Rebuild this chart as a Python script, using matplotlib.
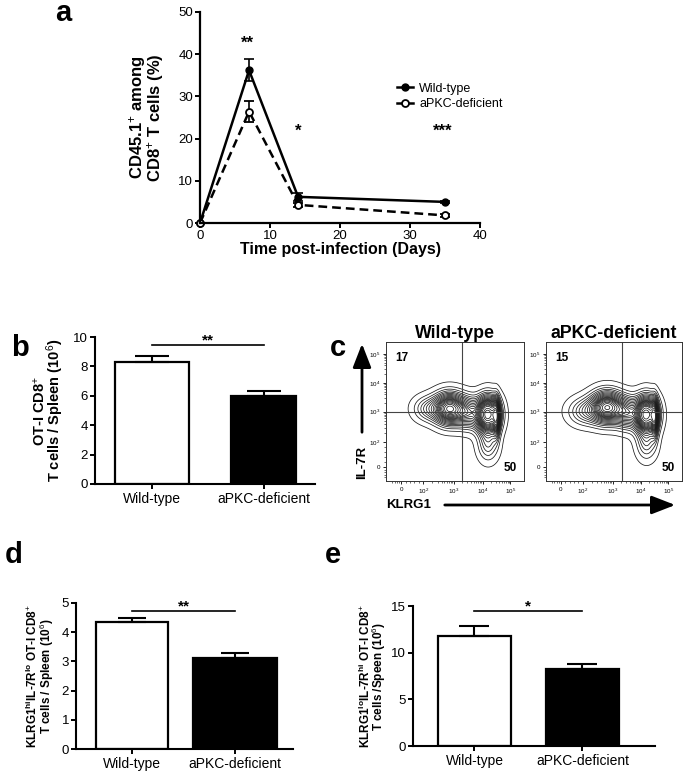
import numpy as np
import matplotlib
matplotlib.use('Agg')
import matplotlib.pyplot as plt
from matplotlib.patches import FancyArrowPatch
from matplotlib.lines import Line2D

plt.rcParams['font.family'] = ['Liberation Sans', 'DejaVu Sans']
plt.rcParams['mathtext.fontset'] = 'custom'
plt.rcParams['mathtext.rm'] = 'Liberation Sans'
plt.rcParams['mathtext.bf'] = 'Liberation Sans:bold'
plt.rcParams['mathtext.it'] = 'Liberation Sans:italic'

# --- данные панели a (кинетика)
days = [0, 7, 14, 35]
wt_pct = [0, 36.2, 6.2, 5.0]
wt_pct_err = [0, 2.6, 0.9, 0.3]
ko_pct = [0, 26.4, 4.3, 1.8]
ko_pct_err = [0, 2.5, 0.5, 0.3]
a_stars = ['**', '*', '***']
a_star_x = [6.8, 14, 34.6]
a_star_y = [42.6, 21.8, 21.8]

groups = ['Wild-type', 'aPKC-deficient']

# --- панели b, d, e (столбцы)
b_vals = [8.3, 6.0]
b_errs = [0.38, 0.33]
d_vals = [4.35, 3.1]
d_errs = [0.15, 0.2]
e_vals = [11.8, 8.3]
e_errs = [1.05, 0.5]

# --- панель c: компоненты плотности (координаты в долях оси)
wt_cx = [0.46, 0.30, 0.74, 0.80, 0.74, 0.60]
wt_cy = [0.52, 0.52, 0.48, 0.46, 0.26, 0.49]
wt_sx = [0.075, 0.07, 0.055, 0.016, 0.05, 0.06]
wt_sy = [0.075, 0.06, 0.085, 0.085, 0.08, 0.075]
wt_w = [0.75, 0.2, 1.0, 0.5, 0.2, 0.35]

ko_cx = [0.45, 0.28, 0.74, 0.80, 0.74, 0.60]
ko_cy = [0.53, 0.50, 0.48, 0.46, 0.27, 0.49]
ko_sx = [0.08, 0.08, 0.055, 0.016, 0.05, 0.06]
ko_sy = [0.075, 0.065, 0.085, 0.085, 0.08, 0.075]
ko_w = [0.8, 0.22, 1.0, 0.5, 0.2, 0.4]

wt_quads = ['17', '50']
ko_quads = ['15', '50']
flow_tick_labels = ['0', '10$^2$', '10$^3$', '10$^4$', '10$^5$']

fig = plt.figure(figsize=(6.85, 7.73), dpi=100)

# ================= a =================
ax = fig.add_axes([0.292, 0.7115, 0.409, 0.273])
ax.errorbar(days, wt_pct, yerr=wt_pct_err, color='black', lw=1.8, marker='o', ms=5,
            capsize=3.5, elinewidth=1.2, capthick=1.2)
ax.errorbar(days, ko_pct, yerr=ko_pct_err, color='black', lw=1.8, ls=(0, (3.5, 2)), marker='o',
            ms=5, mfc='white', mew=1.3, capsize=3.5, elinewidth=1.2, capthick=1.2)
ax.set_xlim(0, 40)
ax.set_ylim(0, 50)
ax.set_xticks([0, 10, 20, 30, 40])
ax.set_yticks([0, 10, 20, 30, 40, 50])
for s in ['top', 'right']:
    ax.spines[s].set_visible(False)
for s in ['left', 'bottom']:
    ax.spines[s].set_linewidth(1.6)
ax.tick_params(width=1.4, length=3.5, labelsize=9.5, pad=1.5)
ax.set_xlabel('Time post-infection (Days)', fontsize=11.5, fontweight='bold', labelpad=0)
ax.set_ylabel('CD45.1$^{+}$ among\nCD8$^{+}$ T cells (%)', fontsize=12, fontweight='bold',
              labelpad=9, linespacing=0.8)
for s, x, y in zip(a_stars, a_star_x, a_star_y):
    ax.text(x, y, s, ha='center', va='center', fontsize=12, fontweight='bold')
handles = [Line2D([], [], color='black', lw=1.8, marker='o', ms=5),
           Line2D([], [], color='black', lw=1.8, marker='o', ms=5, mfc='white', mew=1.3)]
ax.legend(handles, groups, loc='upper left', bbox_to_anchor=(0.68, 0.695), frameon=False,
          fontsize=9, handlelength=1.3, handletextpad=0.5, borderpad=0, labelspacing=0.3)
for ch in ax.get_children():
    if hasattr(ch, 'set_clip_on'):
        ch.set_clip_on(False)


# ================= столбцы =================
def bar_panel(rect, vals, errs, widths, xlim, ylim, yticks, ylabel, ylabel_size, sig_y, stars, capsize, lpad):
    ax = fig.add_axes(rect)
    x = np.arange(len(vals))
    ax.bar(x, vals, width=widths, color=['white', 'black'], edgecolor='black', lw=1.6, zorder=2)
    ax.errorbar(x, vals, yerr=[[0] * len(vals), errs], fmt='none', ecolor='black',
                elinewidth=1.5, capsize=capsize, capthick=1.5, zorder=3)
    ax.set_xlim(*xlim)
    ax.set_ylim(*ylim)
    ax.set_yticks(yticks)
    ax.set_xticks(x)
    ax.set_xticklabels(groups, fontsize=10)
    for s in ['top', 'right']:
        ax.spines[s].set_visible(False)
    for s in ['left', 'bottom']:
        ax.spines[s].set_linewidth(1.5)
    ax.tick_params(axis='y', width=1.4, length=3.5, labelsize=9.5, pad=1.5)
    ax.tick_params(axis='x', width=1.4, length=3.5, pad=2)
    ax.set_ylabel(ylabel, fontsize=ylabel_size, fontweight='bold', labelpad=lpad, linespacing=0.8)
    ax.plot([0, 1], [sig_y, sig_y], color='black', lw=1.2, clip_on=False)
    ax.annotate(stars, (0.5, sig_y), xytext=(0, 0.5), textcoords='offset points',
                ha='center', va='baseline', fontsize=11, fontweight='bold', annotation_clip=False)
    return ax


bar_panel([0.1387, 0.3739, 0.321, 0.190], b_vals, b_errs, [0.66, 0.58], (-0.509, 1.455),
          (0, 10), [0, 2, 4, 6, 8, 10], 'OT-I CD8$^{+}$\nT cells / Spleen (10$^{6}$)', 10.5, 9.45, '**', 12, 5)
bar_panel([0.111, 0.031, 0.3168, 0.189], d_vals, d_errs, [0.70, 0.82], (-0.544, 1.563),
          (0, 5), [0, 1, 2, 3, 4, 5],
          'KLRG1$^{\\mathbf{hi}}$IL-7R$^{\\mathbf{lo}}$ OT-I CD8$^{+}$\nT cells / Spleen (10$^{6}$)', 8.5, 4.73,
          '**', 10, 4)
bar_panel([0.603, 0.0349, 0.353, 0.181], e_vals, e_errs, [0.68, 0.68], (-0.569, 1.671),
          (0, 15), [0, 5, 10, 15],
          'KLRG1$^{\\mathbf{lo}}$IL-7R$^{\\mathbf{hi}}$ OT-I CD8$^{+}$\nT cells /Speen (10$^{6}$)', 8.5, 14.5,
          '*', 11, 2)

# ================= c (проточная цитометрия) =================
xt = [0.11, 0.27, 0.49, 0.70, 0.90]
yt = [0.10, 0.28, 0.50, 0.705, 0.915]


def minor_positions(t):
    pos = []
    for k in range(1, 4):
        for m in range(2, 10):
            pos.append(t[k] + (t[k + 1] - t[k]) * np.log10(m))
    for m in np.linspace(0, 1, 6)[1:-1]:
        pos.append(t[0] + (t[1] - t[0]) * m)
        pos.append(t[0] - (t[1] - t[0]) * m * 0.5)
    return [p for p in pos if 0 < p < 1]


gx, gy = np.meshgrid(np.linspace(0, 1, 300), np.linspace(0, 1, 300))


def flow_panel(rect, cx, cy, sx, sy, w, title, quads, vline):
    ax = fig.add_axes(rect)
    z = np.zeros_like(gx)
    for a, b, c, d, e in zip(cx, cy, sx, sy, w):
        z += e * np.exp(-0.5 * ((gx - a) / c) ** 2 - 0.5 * ((gy - b) / d) ** 2)
    zs = np.sort(z.ravel())[::-1]
    cm = np.cumsum(zs) / zs.sum()
    levels = sorted(set(zs[np.searchsorted(cm, m)] for m in np.linspace(0.05, 0.98, 22)))
    ax.contour(gx, gy, z, levels=levels, colors='#1a1a1a', linewidths=0.55)
    ax.axvline(vline, color='#444444', lw=0.8)
    ax.axhline(0.50, color='#444444', lw=0.8)
    ax.set_xlim(0, 1)
    ax.set_ylim(0, 1)
    ax.set_xticks(xt)
    ax.set_xticklabels(flow_tick_labels)
    ax.set_yticks(yt)
    ax.set_yticklabels(flow_tick_labels)
    ax.set_xticks(minor_positions(xt), minor=True)
    ax.set_yticks(minor_positions(yt), minor=True)
    ax.tick_params(which='major', length=2.2, width=0.6, labelsize=4.5, pad=2)
    ax.tick_params(which='minor', length=1.2, width=0.4)
    for s in ax.spines.values():
        s.set_linewidth(0.7)
        s.set_color('#333333')
    ax.set_title(title, fontsize=12.8, fontweight='bold', pad=2)
    ax.text(0.07, 0.93, quads[0], transform=ax.transAxes, fontsize=8.5, fontweight='bold', ha='left', va='top')
    ax.text(0.95, 0.05, quads[1], transform=ax.transAxes, fontsize=8.5, fontweight='bold', ha='right', va='bottom')


flow_panel([0.5635, 0.3777, 0.2015, 0.1798], wt_cx, wt_cy, wt_sx, wt_sy, wt_w, 'Wild-type', wt_quads, 0.55)
flow_panel([0.797, 0.3777, 0.1985, 0.1798], ko_cx, ko_cy, ko_sx, ko_sy, ko_w, 'aPKC-deficient', ko_quads, 0.56)

# стрелки осей
H = 773.0
W = 685.0
fig.add_artist(FancyArrowPatch((362 / W, 1 - 435 / H), (362 / W, 1 - 341 / H), transform=fig.transFigure,
                               arrowstyle='-|>,head_length=0.9,head_width=0.35', mutation_scale=16,
                               lw=2, color='black'))
fig.add_artist(FancyArrowPatch((442 / W, 1 - 505 / H), (678 / W, 1 - 505 / H), transform=fig.transFigure,
                               arrowstyle='-|>,head_length=0.9,head_width=0.35', mutation_scale=16,
                               lw=2, color='black'))
fig.text(362 / W, 1 - 462 / H, 'IL-7R', rotation=90, ha='center', va='center', fontsize=9.5, fontweight='bold')
fig.text(409 / W, 1 - 505 / H, 'KLRG1', ha='center', va='center', fontsize=9.5, fontweight='bold')

# буквы панелей
for lab, x, y in [('a', 63, 21), ('b', 20, 356), ('c', 338, 356), ('d', 14, 563), ('e', 333, 563)]:
    fig.text(x / W, 1 - y / H, lab, ha='center', va='baseline', fontsize=21, fontweight='bold')

fig.savefig('out.png', dpi=100)
